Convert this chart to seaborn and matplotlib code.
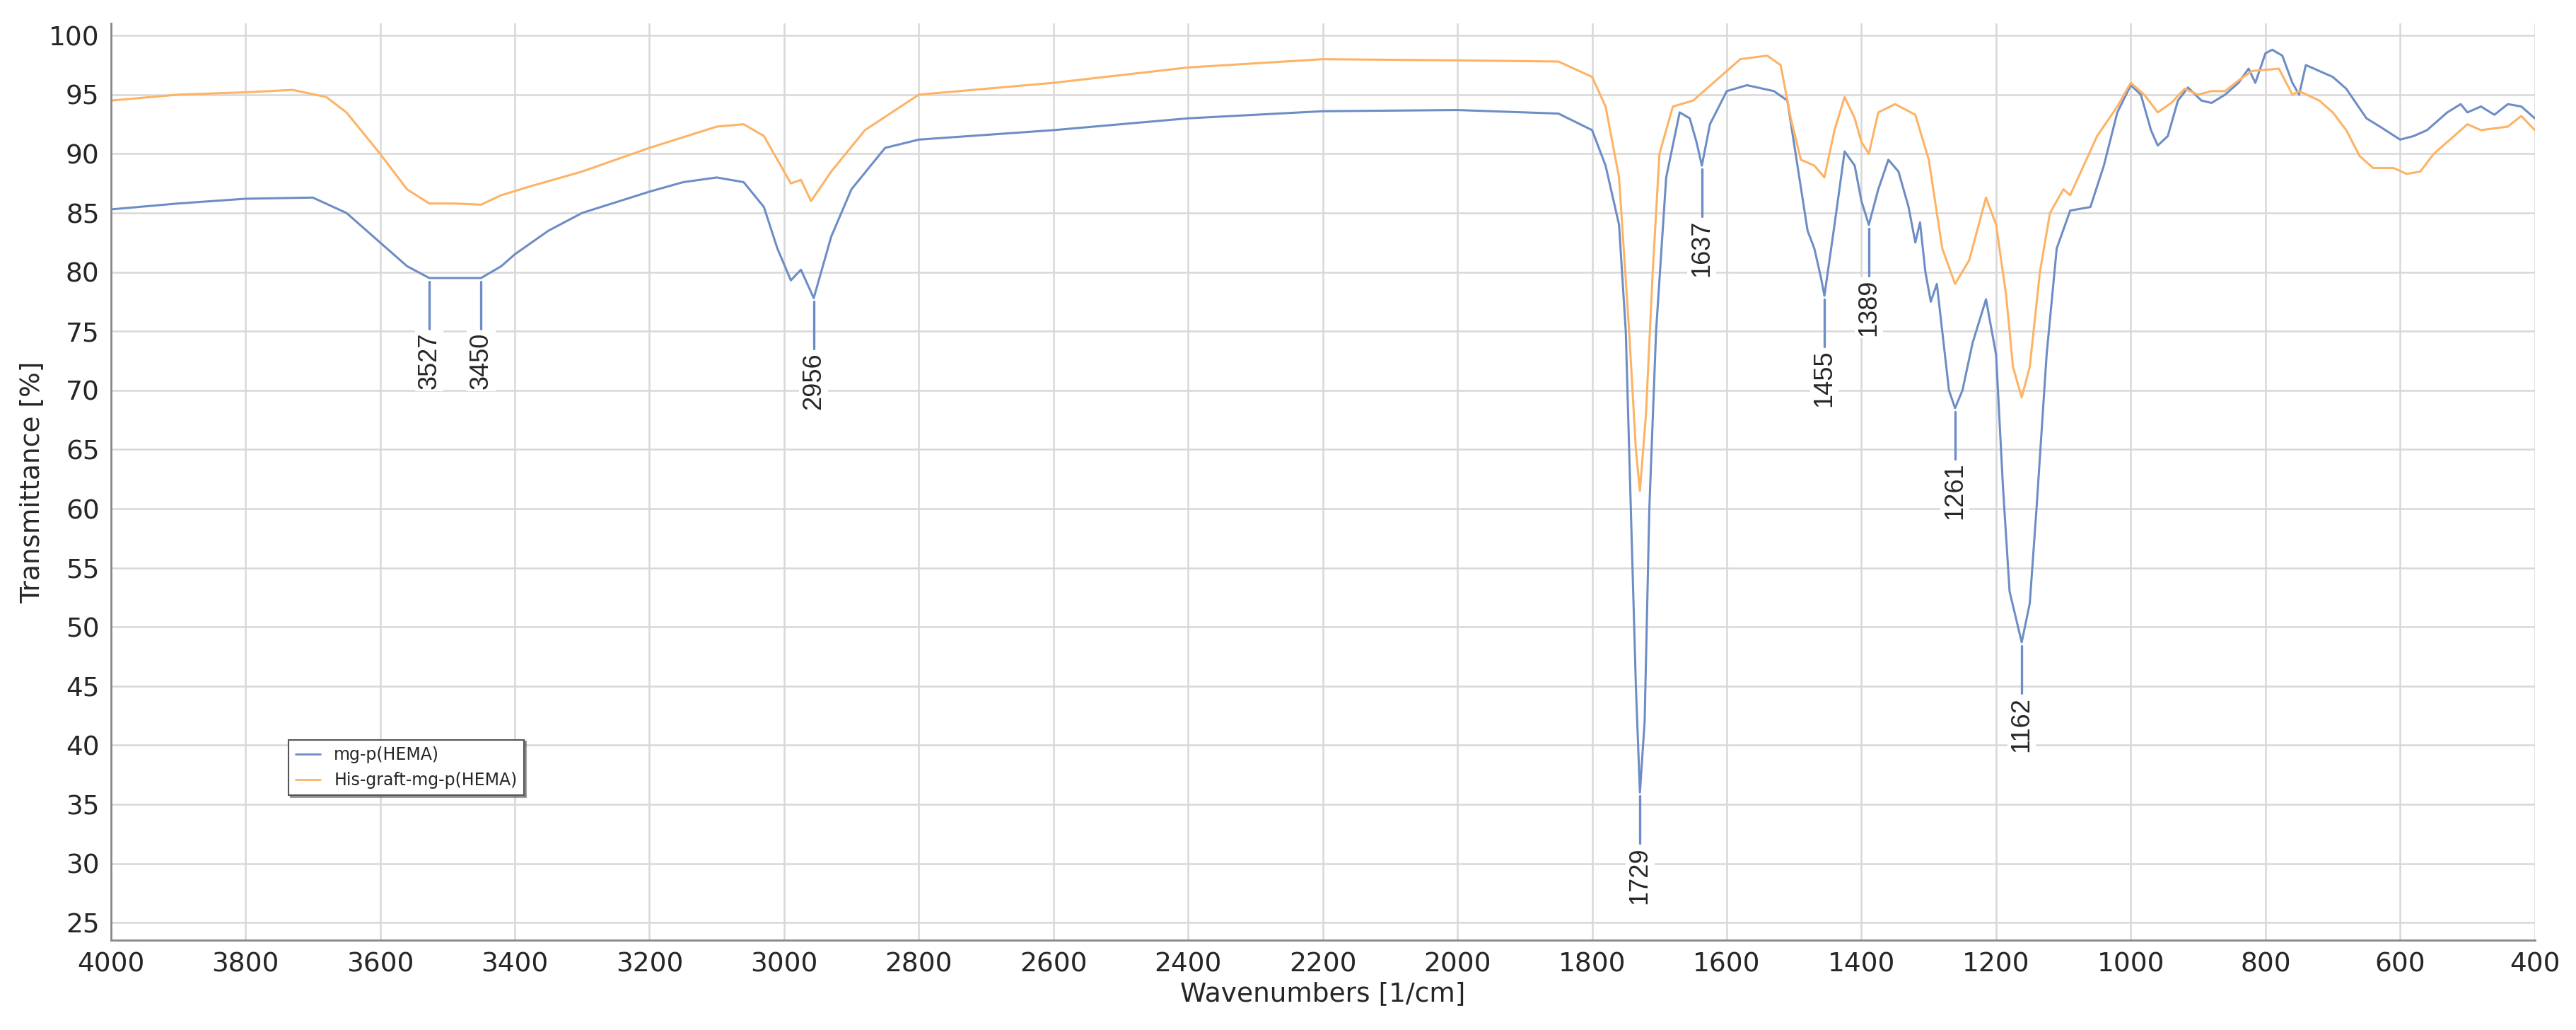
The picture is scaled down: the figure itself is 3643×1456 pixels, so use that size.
import numpy as np
import pandas as pd
import matplotlib
matplotlib.use("Agg")
import matplotlib.pyplot as plt
import seaborn as sns

blue_wn = [4000, 3900, 3800, 3700, 3650, 3600, 3560, 3527, 3490, 3450, 3420, 3400, 3350, 3300, 3200, 3150, 3100, 3060,
           3030, 3010, 2990, 2975, 2956, 2930, 2900, 2850, 2800, 2600, 2400, 2200, 2000, 1850, 1800, 1780, 1760, 1750,
           1740, 1735, 1729, 1722, 1715, 1705, 1690, 1670, 1655, 1645, 1637, 1625, 1600, 1570, 1530, 1510, 1495, 1480,
           1470, 1460, 1455, 1440, 1425, 1410, 1400, 1389, 1375, 1360, 1345, 1330, 1320, 1313, 1305, 1297, 1288, 1280,
           1270, 1261, 1250, 1235, 1215, 1200, 1190, 1180, 1162, 1150, 1140, 1125, 1110, 1090, 1060, 1040, 1020, 1000,
           985, 970, 960, 945, 930, 915, 895, 880, 860, 840, 825, 815, 800, 790, 775, 760, 750, 740, 720, 700, 680, 650,
           630, 600, 580, 560, 530, 510, 500, 480, 460, 440, 420, 400]
blue_t = [85.3, 85.8, 86.2, 86.3, 85.0, 82.5, 80.5, 79.5, 79.5, 79.5, 80.5, 81.5, 83.5, 85.0, 86.8, 87.6, 88.0, 87.6,
          85.5, 82.0, 79.3, 80.2, 77.8, 83.0, 87.0, 90.5, 91.2, 92.0, 93.0, 93.6, 93.7, 93.4, 92.0, 89.0, 84.0, 75.0,
          55.0, 45.0, 36.0, 42.0, 60.0, 75.0, 88.0, 93.5, 93.0, 91.0, 89.0, 92.5, 95.3, 95.8, 95.3, 94.5, 89.0, 83.5,
          82.0, 79.5, 78.0, 84.0, 90.2, 89.0, 86.0, 84.0, 87.0, 89.5, 88.5, 85.5, 82.5, 84.2, 80.0, 77.5, 79.0, 75.0,
          70.0, 68.5, 70.0, 74.0, 77.7, 73.0, 62.0, 53.0, 48.7, 52.0, 60.0, 73.0, 82.0, 85.2, 85.5, 89.0, 93.5, 95.8,
          95.0, 92.0, 90.7, 91.5, 94.5, 95.6, 94.5, 94.3, 95.0, 96.0, 97.2, 96.0, 98.5, 98.8, 98.3, 96.0, 95.0, 97.5,
          97.0, 96.5, 95.5, 93.0, 92.3, 91.2, 91.5, 92.0, 93.5, 94.2, 93.5, 94.0, 93.3, 94.2, 94.0, 93.0]

orange_wn = [4000, 3900, 3800, 3730, 3680, 3650, 3600, 3560, 3527, 3490, 3450, 3420, 3380, 3300, 3200, 3100, 3060, 3030,
             3000, 2990, 2975, 2960, 2930, 2880, 2800, 2600, 2400, 2200, 2000, 1850, 1800, 1780, 1760, 1745, 1735, 1729,
             1720, 1710, 1700, 1680, 1650, 1620, 1580, 1540, 1520, 1505, 1490, 1470, 1455, 1440, 1425, 1410, 1400, 1389,
             1375, 1350, 1320, 1300, 1280, 1261, 1240, 1215, 1200, 1185, 1175, 1162, 1150, 1135, 1120, 1100, 1090, 1070,
             1050, 1020, 1000, 980, 960, 940, 920, 900, 880, 860, 840, 820, 780, 760, 750, 720, 700, 680, 660, 640, 610,
             590, 570, 550, 520, 500, 480, 440, 420, 400]
orange_t = [94.5, 95.0, 95.2, 95.4, 94.8, 93.5, 90.0, 87.0, 85.8, 85.8, 85.7, 86.5, 87.2, 88.5, 90.5, 92.3, 92.5, 91.5,
            88.5, 87.5, 87.8, 86.0, 88.5, 92.0, 95.0, 96.0, 97.3, 98.0, 97.9, 97.8, 96.5, 94.0, 88.0, 75.0, 65.0, 61.5,
            68.0, 80.0, 90.0, 94.0, 94.5, 96.0, 98.0, 98.3, 97.5, 93.0, 89.5, 89.0, 88.0, 92.0, 94.8, 93.0, 91.0, 90.0,
            93.5, 94.2, 93.3, 89.5, 82.0, 79.0, 81.0, 86.3, 84.0, 78.0, 72.0, 69.4, 72.0, 80.0, 85.0, 87.0, 86.5, 89.0,
            91.5, 94.0, 96.0, 95.0, 93.5, 94.3, 95.5, 95.0, 95.3, 95.3, 96.2, 97.0, 97.2, 95.0, 95.3, 94.5, 93.5, 92.0,
            89.8, 88.8, 88.8, 88.3, 88.5, 90.0, 91.5, 92.5, 92.0, 92.3, 93.2, 92.0]

peak_labels = [3527, 3450, 2956, 1729, 1637, 1455, 1389, 1261, 1162]

df = pd.concat([
    pd.DataFrame({"wn": blue_wn, "T": blue_t, "sample": "mg-p(HEMA)"}),
    pd.DataFrame({"wn": orange_wn, "T": orange_t, "sample": "His-graft-mg-p(HEMA)"}),
])

sns.set_style("white")
blue = "#6C8DC5"
orange = "#FDB366"

fig, ax = plt.subplots(figsize=(36.43, 14.56), dpi=100)
fig.subplots_adjust(left=0.043, right=0.984, top=0.977, bottom=0.087)
sns.lineplot(data=df, x="wn", y="T", hue="sample", palette=[blue, orange], sort=False,
             linewidth=2.2, ax=ax, estimator=None)

ax.set_xlim(4000, 400)
ax.set_ylim(23.5, 101)
ax.set_xticks(np.arange(4000, 399, -200))
ax.set_yticks(np.arange(25, 101, 5))
ax.set_xticks(np.arange(4000, 399, -50), minor=True)
ax.set_yticks(np.arange(25, 101, 1), minor=True)
ax.grid(True, which="major", color="#d8d8d8", linewidth=1.8)
ax.tick_params(axis="both", which="major", labelsize=27, length=8, color="#666666")
ax.tick_params(axis="both", which="minor", length=4, color="#888888")
for s in ["top", "right"]:
    ax.spines[s].set_visible(False)
for s in ["left", "bottom"]:
    ax.spines[s].set_color("#888888")
    ax.spines[s].set_linewidth(2)
ax.set_xlabel("Wavenumbers [1/cm]", fontsize=27)
ax.set_ylabel("Transmittance [%]", fontsize=27)

# peak markers on the blue spectrum
for p in peak_labels:
    y = np.interp(p, blue_wn[::-1], blue_t[::-1])
    ax.plot([p, p], [y - 0.3, y - 4.3], color=blue, lw=2.4)
    ax.text(p, y - 4.6, str(p), rotation=90, ha="center", va="top", fontsize=26,
            family="Liberation Sans",
            bbox=dict(facecolor="white", edgecolor="none", pad=2))

leg = ax.legend(loc="upper left", bbox_to_anchor=(0.07, 0.228), fontsize=17, frameon=True,
                fancybox=False, edgecolor="#555555", handlelength=1.5, shadow=True)
leg.get_frame().set_linewidth(1.5)
for line in leg.get_lines():
    line.set_linewidth(2)

fig.savefig("out.png", dpi=100)
